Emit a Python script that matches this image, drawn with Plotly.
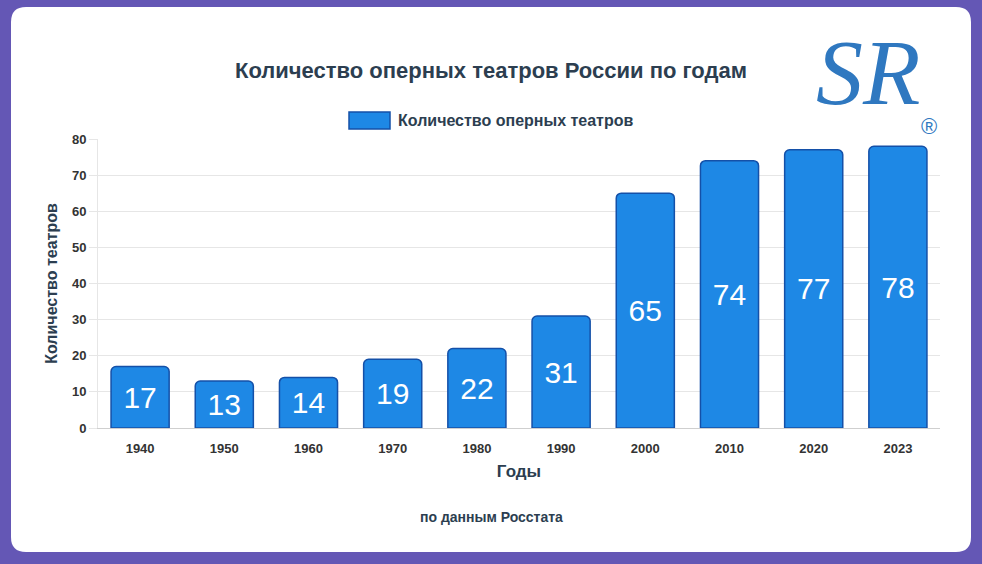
import plotly.graph_objects as go

years = ["1940", "1950", "1960", "1970", "1980", "1990", "2000", "2010", "2020", "2023"]
counts = [17, 13, 14, 19, 22, 31, 65, 74, 77, 78]
series_name = "Количество оперных театров"
title_text = "Количество оперных театров России по годам"
x_title = "Годы"
y_title = "Количество театров"
source_text = "по данным Росстата"
y_ticks = [0, 10, 20, 30, 40, 50, 60, 70, 80]

W, H = 982, 564
L, R, T, B = 98, 42, 139, 136
PW, PH = W - L - R, H - T - B

def px_x(px):
    return (px - L) / PW

def px_y(py):
    return (H - B - py) / PH

FONT = "Liberation Sans, Arial, sans-serif"
TXT = "#2c3e50"
BAR = "#1e88e5"
EDGE = "#1450a8"

fig = go.Figure()
fig.add_trace(go.Bar(
    x=years, y=counts, name=series_name,
    marker=dict(color=BAR, line=dict(color=EDGE, width=1.5), cornerradius=5),
    text=[str(v) for v in counts], textposition="inside", insidetextanchor="middle",
    textfont=dict(size=30, color="white", family=FONT),
    hoverinfo="skip", showlegend=False,
))

# card with rounded corners
x0, x1 = px_x(11), px_x(971)
y0, y1 = px_y(552), px_y(7)
rx, ry = 15 / PW, 15 / PH
path = (f"M {x0+rx},{y1} L {x1-rx},{y1} Q {x1},{y1} {x1},{y1-ry} "
        f"L {x1},{y0+ry} Q {x1},{y0} {x1-rx},{y0} L {x0+rx},{y0} "
        f"Q {x0},{y0} {x0},{y0+ry} L {x0},{y1-ry} Q {x0},{y1} {x0+rx},{y1} Z")
shapes = [dict(type="path", xref="paper", yref="paper", path=path,
               fillcolor="white", line=dict(width=0), layer="below")]
# legend swatch
shapes.append(dict(type="rect", xref="paper", yref="paper",
                   x0=px_x(349), x1=px_x(390), y0=px_y(129), y1=px_y(112),
                   fillcolor=BAR, line=dict(color=EDGE, width=1.5)))

annotations = [
    dict(text=f"<b>{series_name}</b>", xref="paper", yref="paper",
         x=px_x(396), y=px_y(120), xanchor="left", yanchor="middle",
         showarrow=False, font=dict(size=16, color=TXT, family=FONT)),
    dict(text=f"<b>{source_text}</b>", xref="paper", yref="paper",
         x=px_x(491), y=px_y(517), xanchor="center", yanchor="middle",
         showarrow=False, font=dict(size=14, color=TXT, family=FONT)),
    dict(text="<i>SR</i>", xref="paper", yref="paper",
         x=px_x(868), y=px_y(72), xanchor="center", yanchor="middle",
         showarrow=False, font=dict(size=94, color="#2f78c0", family="Liberation Serif, serif")),
    dict(text="®", xref="paper", yref="paper",
         x=px_x(929), y=px_y(126), xanchor="center", yanchor="middle",
         showarrow=False, font=dict(size=22, color="#2f78c0", family=FONT)),
]

fig.update_layout(
    width=W, height=H,
    margin=dict(l=L, r=R, t=T, b=B),
    paper_bgcolor="#6457b5",
    plot_bgcolor="rgba(0,0,0,0)",
    bargap=0.31,
    showlegend=False,
    title=dict(text=f"<b>{title_text}</b>", x=0.5, xref="container", xanchor="center",
               y=1 - 70 / H, yref="container", yanchor="middle",
               font=dict(size=22, color=TXT, family=FONT)),
    shapes=shapes,
    annotations=annotations,
    xaxis=dict(
        title=dict(text=f"<b>{x_title}</b>", font=dict(size=17, color=TXT, family=FONT), standoff=10),
        tickfont=dict(size=13, color="#333", family=FONT), tickprefix="<b>", ticksuffix="</b>",
        showgrid=False, showline=True, linecolor="#cfcfcf", linewidth=1, ticks="",
        ticklabelstandoff=8,
    ),
    yaxis=dict(
        title=dict(text=f"<b>{y_title}</b>", font=dict(size=16, color=TXT, family=FONT), standoff=10),
        range=[0, 80], tickvals=y_ticks, ticktext=[f"<b>{v}</b>" for v in y_ticks],
        tickfont=dict(size=13, color="#333", family=FONT),
        showgrid=True, gridcolor="#e6e6e6", gridwidth=1,
        showline=True, linecolor="#e6e6e6", zeroline=False,
        ticks="outside", ticklen=8, tickcolor="#e6e6e6",
    ),
)

fig.write_html("out.html", config={"displayModeBar": False},
               post_script="document.body.style.margin='0';")
